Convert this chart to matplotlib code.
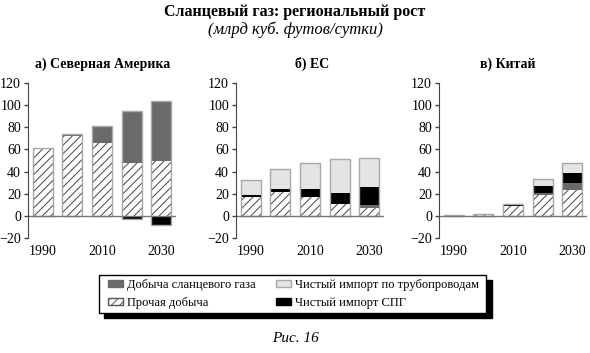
import numpy as np
import matplotlib
matplotlib.use("Agg")
import matplotlib.pyplot as plt
import matplotlib.patches as patches

plt.rcParams['font.family'] = ['Liberation Serif', 'DejaVu Serif']
plt.rcParams['hatch.linewidth'] = 0.7

# данные (млрд куб. футов/сутки)
years = [1990, 2000, 2010, 2020, 2030]
tick_years = ['1990', '2010', '2030']
titles = ['а) Северная Америка', 'б) ЕС', 'в) Китай']

na_other = [61, 72, 66, 48, 50]
na_shale = [0, 1.5, 14, 47, 54]
na_lng = [0, 0, 1, -3, -8]
na_pipe = [0, 0, 0, 0, 0]

eu_other = [17, 22, 17, 11, 7]
eu_shale = [0, 0, 0, 0, 3]
eu_lng = [2, 2.5, 7, 10, 16]
eu_pipe = [13, 17.5, 24, 30.5, 26]

cn_other = [1, 2, 9, 19, 23]
cn_shale = [0, 0, 0, 2, 7]
cn_lng = [0, 0, 1, 6, 9]
cn_pipe = [0, 0, 0.5, 6.5, 9]

labels = ['Добыча сланцевого газа', 'Прочая добыча',
          'Чистый импорт по трубопроводам', 'Чистый импорт СПГ']

c_shale = '#6a6a6a'
c_pipe = '#e4e4e4'
c_lng = '#000000'
c_edge = '#a8a8a8'

W, H = 590, 353
fig = plt.figure(figsize=(W / 100, H / 100), dpi=100)


def fx(px):
    return px / W


def fy(py):
    return 1 - py / H


regions = [
    (na_other, na_shale, na_lng, na_pipe),
    (eu_other, eu_shale, eu_lng, eu_pipe),
    (cn_other, cn_shale, cn_lng, cn_pipe),
]
lefts = [28, 236, 439]
title_x = [103, 312, 508]

for i, (other, shale, lng, pipe) in enumerate(regions):
    ax = fig.add_axes([fx(lefts[i]), fy(238), 148 / W, (238 - 83) / H])
    x = np.arange(len(years))
    other = np.array(other, float)
    shale = np.array(shale, float)
    lng = np.array(lng, float)
    pipe = np.array(pipe, float)
    w = 0.68

    ax.bar(x, other, w, color='white', edgecolor='#444444', hatch='////', lw=0)
    ax.bar(x, shale, w, bottom=other, color=c_shale, lw=0)
    lng_bot = np.where(lng >= 0, other + shale, 0)
    ax.bar(x, lng, w, bottom=lng_bot, color=c_lng, lw=0)
    pipe_bot = other + shale + np.clip(lng, 0, None)
    ax.bar(x, pipe, w, bottom=pipe_bot, color=c_pipe, lw=0)
    # контур столбцов
    top = pipe_bot + pipe
    low = np.minimum(lng, 0)
    ax.bar(x, top - low, w, bottom=low, fill=False, edgecolor=c_edge, lw=1)

    ax.axhline(0, color='#777777', lw=1)
    ax.set_xlim(-0.5, 4.5)
    ax.set_ylim(-20, 120)
    ax.set_yticks(range(-20, 121, 20))
    ax.set_yticklabels(['\u221220'] + [str(v) for v in range(0, 121, 20)])
    ax.set_xticks([0, 2, 4])
    ax.set_xticklabels(tick_years)
    ax.tick_params(axis='x', length=0, pad=5, labelsize=10)
    ax.tick_params(axis='y', length=3, width=1, color='#444444', pad=2, labelsize=10)
    for s in ['top', 'right', 'bottom']:
        ax.spines[s].set_visible(False)
    ax.spines['left'].set_color('#444444')
    ax.patch.set_alpha(0)

    fig.text(fx(title_x[i]), fy(64), titles[i], ha='center', va='center',
             fontsize=10, fontweight='bold')

fig.text(0.5, fy(12), 'Сланцевый газ: региональный рост', ha='center', va='center',
         fontsize=11.5, fontweight='bold')
fig.text(0.5, fy(30), '(млрд куб. футов/сутки)', ha='center', va='center',
         fontsize=12, fontstyle='italic')
fig.text(0.5, fy(339), 'Рис. 16', ha='center', va='center',
         fontsize=11, fontstyle='italic')

# рамка легенды с тенью
fig.patches.append(patches.Rectangle((fx(104), fy(318)), (492 - 104) / W, (318 - 280) / H,
                                     transform=fig.transFigure, color='black', zorder=1))
fig.patches.append(patches.Rectangle((fx(99), fy(313)), (486 - 99) / W, (313 - 275) / H,
                                     transform=fig.transFigure, facecolor='white',
                                     edgecolor='black', lw=1, zorder=2))

handles = [
    patches.Patch(facecolor=c_shale, edgecolor=c_shale),
    patches.Patch(facecolor='white', edgecolor='#555555', hatch='////'),
    patches.Patch(facecolor=c_pipe, edgecolor=c_edge),
    patches.Patch(facecolor=c_lng, edgecolor=c_lng),
]
leg = fig.legend(handles, labels, ncol=2, frameon=False, fontsize=9,
                 loc='center left', bbox_to_anchor=(fx(108), fy(294)),
                 borderpad=0, borderaxespad=0,
                 handlelength=1.2, handleheight=0.5, handletextpad=0.35,
                 columnspacing=1.6, labelspacing=0.45)
leg.set_zorder(3)

fig.savefig('out.png', dpi=100)
